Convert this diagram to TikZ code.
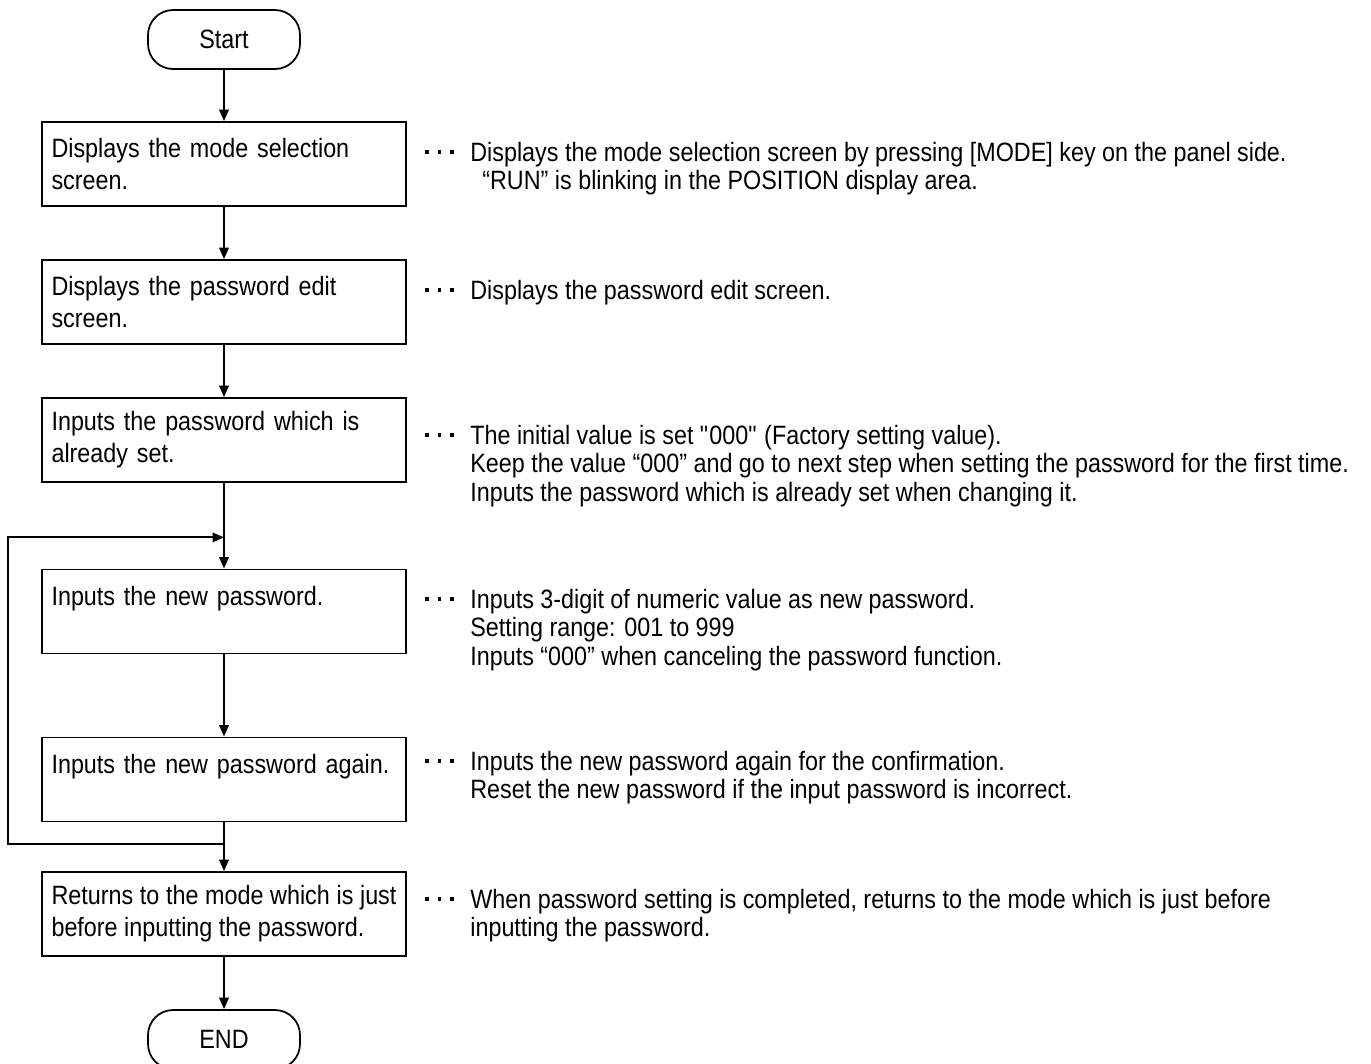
\documentclass[tikz,border=0pt]{standalone}
\usepackage{fontspec}
\setmainfont[FakeStretch=0.88]{Liberation Sans}
\usetikzlibrary{arrows.meta, calc}

\newcommand{\dotlead}{\rule[0.15cm]{0.066cm}{0.066cm}\hspace{0.184cm}\rule[0.15cm]{0.066cm}{0.066cm}\hspace{0.184cm}\rule[0.15cm]{0.066cm}{0.066cm}}

\begin{document}
\begin{tikzpicture}[
    x=0.02cm, y=-0.02cm,
    >={Triangle[length=0.23cm, width=0.19cm]},
    font=\fontsize{15.1}{16.2}\selectfont,
    term/.style={draw, line width=1pt, rounded corners=0.5cm, minimum width=3.04cm, minimum height=1.18cm},
    stepbox/.style={draw, line width=1pt, minimum width=7.28cm, minimum height=1.68cm, text width=6.9cm, inner xsep=0.19cm, align=left, font=\fontsize{15.1}{18.2}\selectfont},
    flow/.style={line width=1.1pt, ->},
    note/.style={anchor=north west, inner sep=0pt, align=left},
    lead/.style={anchor=base west, inner sep=0pt}
]
\useasboundingbox (0,0) rectangle (1371,1063);

% flow chart
\node[term] (start) at (224,39.5) {Start};
\node[stepbox] (s1) at (224,164) {Displays the mode selection\\screen.};
\node[stepbox] (s2) at (224,302) {Displays the password edit\\screen.};
\node[stepbox] (s3) at (224,440) {Inputs the password which is\\already set.};
\node[stepbox] (s4) at (224,611.5) {Inputs the new password.\\\mbox{}};
\node[stepbox] (s5) at (224,779.5) {Inputs the new password again.\\\mbox{}};
\node[stepbox, align=justify] (s6) at (224,914) {Returns to the mode which is just before inputting the password.};
\node[term] (end) at (224,1039.5) {END};

\coordinate (merge) at ($(s3.south)!0.636!(s4.north)$);
\coordinate (back) at ($(s5.south)!0.45!(s6.north)$);

\draw[flow] (start) -- (s1);
\draw[flow] (s1) -- (s2);
\draw[flow] (s2) -- (s3);
\draw[flow] (s3) -- (s4);
\draw[flow] (s4) -- (s5);
\draw[flow] (s5) -- (s6);
\draw[flow] (s6) -- (end);
\draw[flow] (back) -- ++(-216,0) |- (merge);

% notes
\node[lead] (d1) at (425,161) {\dotlead};
\node[note] (n1) at (470,141.5) {Displays the mode selection screen by pressing [MODE] key on the panel side.\\\hspace{0.24cm}“RUN” is blinking in the POSITION display area.};
\node[lead] (d2) at (425,299) {\dotlead};
\node[note] (n2) at (470,279.5) {Displays the password edit screen.};
\node[lead] (d3) at (425,444) {\dotlead};
\node[note] (n3) at (470,424.5) {The initial value is set \textquotedbl000\textquotedbl{} (Factory setting value).\\Keep the value “000” and go to next step when setting the password for the first time.\\Inputs the password which is already set when changing it.};
\node[lead] (d4) at (425,608) {\dotlead};
\node[note] (n4) at (470,588.5) {Inputs 3-digit of numeric value as new password.\\Setting range: 001 to 999\\Inputs “000” when canceling the password function.};
\node[lead] (d5) at (425,770) {\dotlead};
\node[note] (n5) at (470,750.5) {Inputs the new password again for the confirmation.\\Reset the new password if the input password is incorrect.};
\node[lead] (d6) at (425,908) {\dotlead};
\node[note] (n6) at (470,888.5) {When password setting is completed, returns to the mode which is just before\\inputting the password.};

\end{tikzpicture}
\end{document}
